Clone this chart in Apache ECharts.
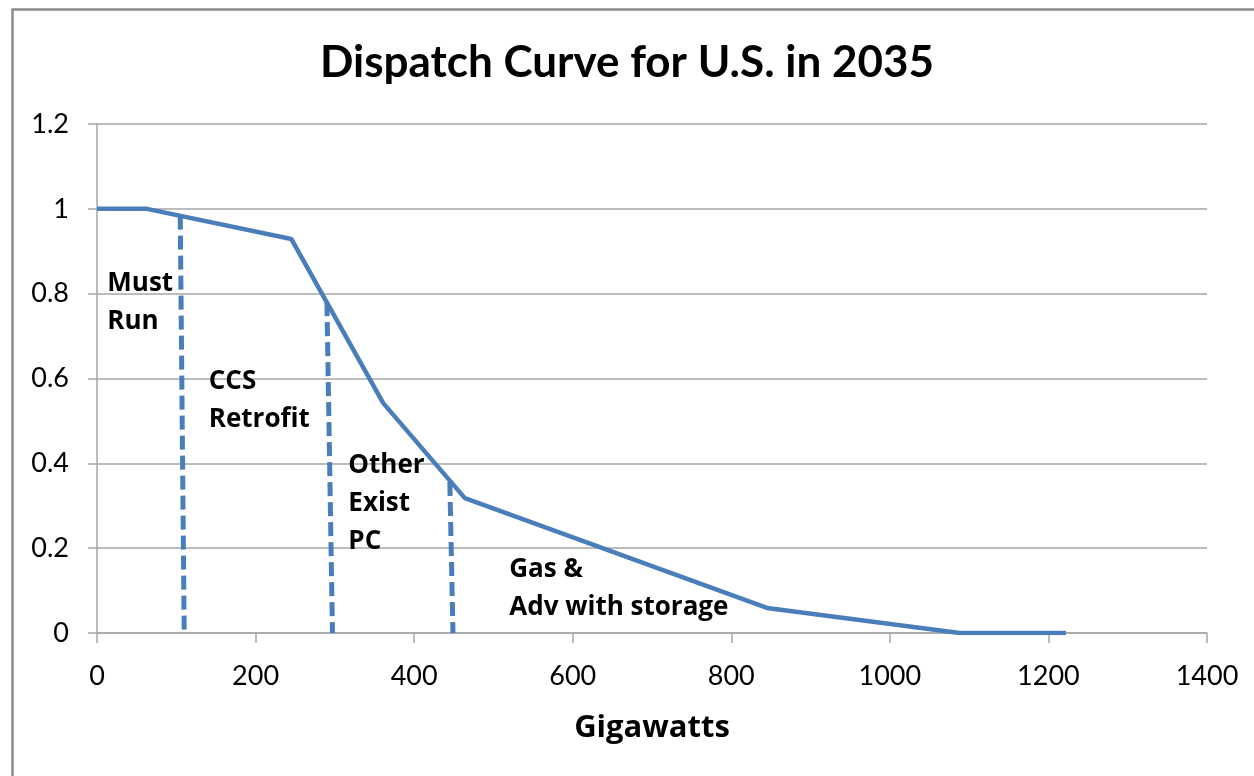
<!DOCTYPE html>
<html>
<head>
<meta charset="utf-8">
<title>Dispatch Curve for U.S. in 2035</title>
<script src="https://cdn.jsdelivr.net/npm/echarts@6/dist/echarts.min.js"></script>
<style>
  html, body { margin: 0; padding: 0; background: #fff; }
  #chart { width: 1254px; height: 776px; }
</style>
</head>
<body>
<div id="chart"></div>
<script>
// values
const curveX = [0, 63, 245, 361, 464, 845, 1088, 1222];
const curveY = [1, 1, 0.929, 0.542, 0.318, 0.059, 0, 0];

// dashed dividers run from the curve down to the axis (slightly slanted)
const dividerTopX = [105, 290, 445];
const dividerTopY = [0.984, 0.78, 0.356];
const dividerBottomX = [110, 297, 449];

const segmentNames = ["Must\nRun", "CCS\nRetrofit", "Other\nExist\nPC", "Gas &\nAdv with storage"];
const segmentLabelX = [13, 141, 317, 520];
const segmentLabelY = [0.78, 0.547, 0.304, 0.104];

const xTicks = [0, 200, 400, 600, 800, 1000, 1200, 1400];
const yTicks = [0, 0.2, 0.4, 0.6, 0.8, 1, 1.2];

const FONT = "Lato, 'Open Sans', sans-serif";
const WIDE_FONT = "'Open Sans', Lato, sans-serif";
const BLUE = "#4a7ebb";
const GRID_GRAY = "#a6a6a6";

const chart = echarts.init(document.getElementById("chart"));

const dividerSeries = dividerTopX.map((x, i) => ({
  type: "line",
  data: [[x, dividerTopY[i]], [dividerBottomX[i], 0]],
  symbol: "none",
  silent: true,
  z: 3,
  lineStyle: { color: BLUE, width: 5, type: [14, 6] }
}));

chart.setOption({
  animation: false,
  title: {
    text: "Dispatch Curve for U.S. in 2035",
    left: "center",
    top: 36,
    textStyle: { fontFamily: FONT, fontWeight: "bold", fontSize: 44, color: "#000" }
  },
  graphic: [{
    type: "rect",
    left: 10,
    top: 7,
    shape: { width: 1270, height: 800 },
    style: { fill: "none", stroke: "#8c8c8c", lineWidth: 2.5 },
    silent: true
  }],
  grid: { left: 97, right: 47, top: 124, bottom: 143 },
  xAxis: {
    type: "value",
    min: xTicks[0],
    max: xTicks[xTicks.length - 1],
    interval: 200,
    name: "Gigawatts",
    nameLocation: "middle",
    nameGap: 80,
    nameTextStyle: { fontFamily: WIDE_FONT, fontWeight: "bold", fontSize: 31, color: "#000" },
    axisLine: { lineStyle: { color: GRID_GRAY, width: 1.5 } },
    axisTick: { show: true, length: 10, lineStyle: { color: GRID_GRAY, width: 1.5 } },
    axisLabel: { fontFamily: FONT, fontSize: 27, color: "#000", margin: 30, formatter: v => String(v) },
    splitLine: { show: false }
  },
  yAxis: {
    type: "value",
    min: yTicks[0],
    max: yTicks[yTicks.length - 1],
    interval: 0.2,
    axisLine: { show: true, lineStyle: { color: GRID_GRAY, width: 1.5 } },
    axisTick: { show: true, length: 9, lineStyle: { color: GRID_GRAY, width: 1.5 } },
    axisLabel: { fontFamily: FONT, fontSize: 27, color: "#000", margin: 28 },
    splitLine: { show: true, lineStyle: { color: GRID_GRAY, width: 1.5 } }
  },
  series: [
    {
      type: "line",
      data: curveX.map((x, i) => [x, curveY[i]]),
      symbol: "none",
      z: 4,
      lineStyle: { color: BLUE, width: 4.5 }
    },
    ...dividerSeries,
    {
      type: "scatter",
      data: segmentNames.map((name, i) => [segmentLabelX[i], segmentLabelY[i], name]),
      symbolSize: 0,
      silent: true,
      z: 5,
      itemStyle: { opacity: 1 },
      label: {
        show: true,
        position: [0, 0],
        align: "left",
        verticalAlign: "middle",
        formatter: p => p.data[2],
        fontFamily: WIDE_FONT,
        fontWeight: "bold",
        fontSize: 26,
        lineHeight: 38,
        color: "#000",
        opacity: 1
      }
    }
  ]
});
</script>
</body>
</html>
